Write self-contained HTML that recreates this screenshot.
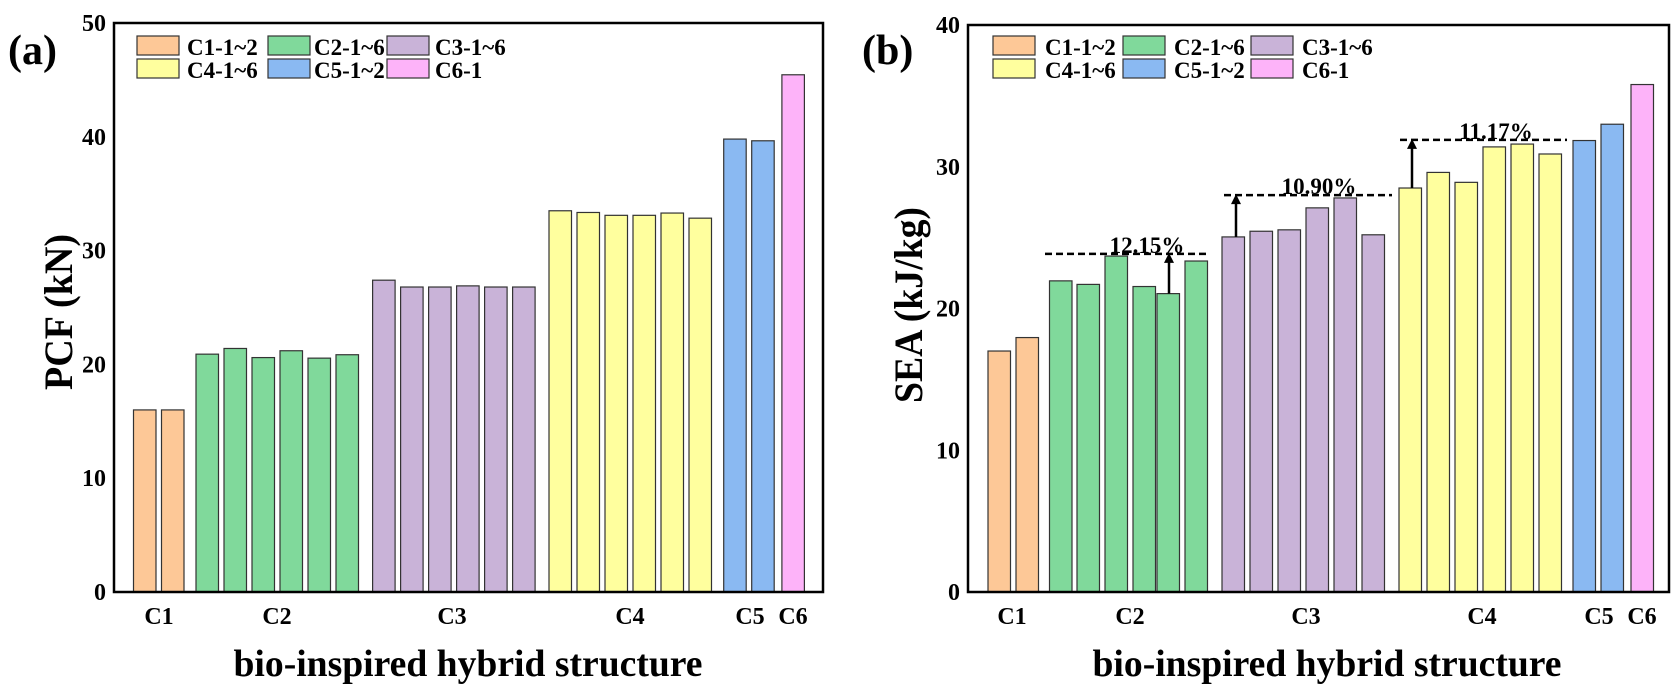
<!DOCTYPE html>
<html><head><meta charset="utf-8"><style>
html,body{margin:0;padding:0;background:#fff;}
svg{display:block;}
text{font-family:"Liberation Serif",serif;font-weight:bold;fill:#000;}
</style></head><body>
<svg id="s" width="1677" height="695" xmlns="http://www.w3.org/2000/svg"></svg>
<script>
const S=document.getElementById('s');const NS='http://www.w3.org/2000/svg';
function el(t,a,txt){const e=document.createElementNS(NS,t);for(const k in a)e.setAttribute(k,a[k]);if(txt!==undefined)e.textContent=txt;S.appendChild(e);return e;}
const col=['#fdc897','#80d99b','#c9b3d8','#ffff9e','#8ab9f2','#fdb3f9'];
const groups=[2,6,6,6,2,1];
function panel(o){
  const {L,R,T,B,max,step,starts,vals,labels,labelX,ylab,ylabX,ylabY,ylabLen,tag,tagX,legBox,legTxt,titleX}=o;
  const sc=(B-T)/max;
  let i=0;
  groups.forEach((n,g)=>{for(let k=0;k<n;k++){const v=vals[i];const y=B-v*sc;el('rect',{x:starts[i],y:y,width:22.5,height:B-y,fill:col[g],stroke:'#333','stroke-width':1.2});i++;}});
  el('rect',{x:L,y:T,width:R-L,height:B-T,fill:'none',stroke:'#000','stroke-width':2.5});
  for(let v=0;v<=max;v+=step){const y=B-v*sc;el('text',{x:L-8,y:y+8,'text-anchor':'end','font-size':24,textLength:v?24:12,lengthAdjust:'spacingAndGlyphs'},v);}
  labels.forEach((t,j)=>el('text',{x:labelX[j],y:624,'text-anchor':'middle','font-size':24},t));
  el('text',{x:titleX,y:676,'text-anchor':'middle','font-size':38,textLength:469,lengthAdjust:'spacingAndGlyphs'},'bio-inspired hybrid structure');
  el('text',{x:0,y:0,'text-anchor':'middle','font-size':40,textLength:ylabLen,lengthAdjust:'spacingAndGlyphs',transform:`translate(${ylabX},${ylabY}) rotate(-90)`},ylab);
  el('text',{x:tagX,y:64,'font-size':42},tag);
  const names=['C1-1~2','C2-1~6','C3-1~6','C4-1~6','C5-1~2','C6-1'];
  names.forEach((nm,j)=>{const c=j%3,r=Math.floor(j/3);const y=r?59:36;
    el('rect',{x:legBox[c],y:y,width:42,height:19,fill:col[j],stroke:'#333','stroke-width':1.2});
    el('text',{x:legTxt[c],y:y+19,'font-size':23},nm);});
  return sc;
}
panel({L:114,R:823,T:23,B:592,max:50,step:10,
 starts:[133.5,161.5,196,224,252,280,308,336,372.6,400.6,428.6,456.6,484.6,512.6,549,577,605,633,661,689,723.7,751.7,781.9],
 vals:[16,16,20.9,21.4,20.6,21.2,20.55,20.85,27.4,26.8,26.8,26.9,26.8,26.8,33.5,33.35,33.1,33.1,33.3,32.85,39.8,39.65,45.45],
 labels:['C1','C2','C3','C4','C5','C6'],labelX:[159,277,452,630,750,793],ylab:'PCF (kN)',ylabX:72,ylabY:312,ylabLen:156,tag:'(a)',tagX:8,
 legBox:[137,268,387],legTxt:[187,314,435],titleX:468});
const sc=panel({L:968,R:1669,T:25,B:592,max:40,step:10,
 starts:[988,1016,1049.5,1077,1105,1133,1157,1185,1222,1250,1278,1306,1334,1362,1399,1427,1455,1483,1511,1539,1573,1601,1631],
 vals:[17.0,17.95,21.95,21.7,23.7,21.55,21.05,23.35,25.05,25.45,25.55,27.1,27.8,25.2,28.5,29.6,28.9,31.4,31.6,30.9,31.85,33.0,35.8],
 labels:['C1','C2','C3','C4','C5','C6'],labelX:[1012,1130,1306,1482,1599,1642],ylab:'SEA (kJ/kg)',ylabX:922,ylabY:305,ylabLen:196,tag:'(b)',tagX:862,
 legBox:[993,1123,1251],legTxt:[1045,1174,1302],titleX:1327});
function ann(x1,x2,yv,ax,yfrom,tx,t){const B=592;const y=B-yv*sc;
 el('line',{x1:x1,x2:x2,y1:y,y2:y,stroke:'#000','stroke-width':2.5,'stroke-dasharray':'7,4'});
 const yb=B-yfrom*sc;el('line',{x1:ax,x2:ax,y1:yb,y2:y+8,stroke:'#000','stroke-width':2.5});
 el('polygon',{points:`${ax-5},${y+9} ${ax+5},${y+9} ${ax},${y-1}`,fill:'#000'});
 el('text',{x:tx,y:y-1,'text-anchor':'middle','font-size':23},t);}
ann(1045,1209,23.85,1169,21.05,1147,'12.15%');
ann(1224,1392,28.0,1236,25.05,1319,'10.90%');
ann(1400,1567,31.9,1412,28.5,1496,'11.17%');
</script>
</body></html>
